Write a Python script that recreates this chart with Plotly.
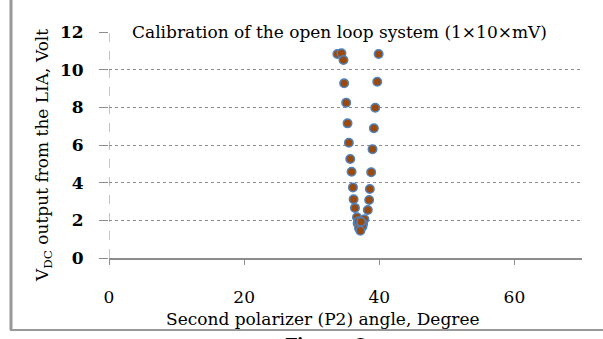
import plotly.graph_objects as go

# data
angle = [33.8, 34.4, 34.7, 39.9, 34.8, 39.7, 35.1, 39.4, 35.3, 39.2, 35.5, 39.0,
         35.7, 35.9, 38.8, 36.1, 38.6, 36.2, 38.5, 36.4, 38.3,
         36.7, 37.8, 36.8, 37.6, 37.0, 37.5, 37.2, 36.9, 37.3]
vdc = [10.83, 10.87, 10.51, 10.83, 9.28, 9.36, 8.25, 7.98, 7.15, 6.89, 6.12, 5.77,
       5.26, 4.58, 4.55, 3.75, 3.66, 3.12, 3.08, 2.66, 2.55,
       2.16, 2.06, 1.84, 1.81, 1.58, 1.66, 1.45, 1.95, 1.92]
x_ticks = [0, 20, 40, 60]
y_ticks = [0, 2, 4, 6, 8, 10, 12]

W, H = 603, 339
L, R, T, B = 109, 21, 32, 81
pw, ph = W - L - R, H - T - B

def px(xp):
    return (xp - L) / pw

def py(yp):
    return (H - B - yp) / ph

SERIF = "DejaVu Serif, serif"
GRAY = "#8c8c8c"

fig = go.Figure()
fig.add_trace(go.Scatter(
    x=angle, y=vdc, mode="markers",
    marker=dict(size=8.5, color="#9a4a0c", line=dict(color="#4f81bd", width=1.5)),
    showlegend=False,
))

fig.update_layout(
    width=W, height=H,
    margin=dict(l=L, r=R, t=T, b=B),
    paper_bgcolor="white", plot_bgcolor="white",
    font=dict(family=SERIF, color="black"),
    xaxis=dict(
        range=[0, 70], tickvals=x_ticks, ticktext=[str(v) for v in x_ticks],
        showgrid=False, zeroline=False,
        showline=True, linecolor=GRAY, linewidth=2,
        ticks="outside", ticklen=5, tickcolor=GRAY, tickwidth=1,
        ticklabelstandoff=18,
        tickfont=dict(family=SERIF, size=17, color="black"),
    ),
    yaxis=dict(
        range=[0, 12], tickvals=y_ticks,
        ticktext=["<b>%d</b>" % v for v in y_ticks],
        showgrid=True, gridcolor=GRAY, gridwidth=1, griddash="dot",
        zeroline=False, showline=False,
        ticks="outside", ticklen=9, tickcolor=GRAY, tickwidth=1,
        ticklabelstandoff=12,
        tickfont=dict(family=SERIF, size=17, color="black"),
    ),
    shapes=[
        dict(type="line", xref="x", yref="y", x0=0, x1=0, y0=0, y1=12,
             line=dict(color=GRAY, width=1, dash="dash")),
        dict(type="line", xref="paper", yref="paper", x0=px(11), x1=px(11),
             y0=py(330), y1=py(0), line=dict(color="#999999", width=3)),
        dict(type="line", xref="paper", yref="paper", x0=px(10), x1=px(603),
             y0=py(330), y1=py(330), line=dict(color="#999999", width=2)),
    ],
    annotations=[
        dict(text="Calibration of the open loop system (1×10×mV)",
             xref="paper", yref="paper", x=px(339), y=py(32),
             xanchor="center", yanchor="middle", showarrow=False,
             font=dict(family=SERIF, size=17, color="black")),
        dict(text="V<sub>DC</sub> output from the LIA, Volt",
             xref="paper", yref="paper", x=px(43), y=py(156),
             xanchor="center", yanchor="middle", textangle=-90, showarrow=False,
             font=dict(family=SERIF, size=17, color="black")),
        dict(text="Second polarizer (P2) angle, Degree",
             xref="paper", yref="paper", x=px(323), y=py(319),
             xanchor="center", yanchor="middle", showarrow=False,
             font=dict(family=SERIF, size=17, color="black")),
        dict(text="<b>Figure 6</b>",
             xref="paper", yref="paper", x=px(325), y=py(332),
             xanchor="center", yanchor="top", showarrow=False,
             font=dict(family=SERIF, size=17, color="black")),
    ],
)

fig.write_html("out.html")
